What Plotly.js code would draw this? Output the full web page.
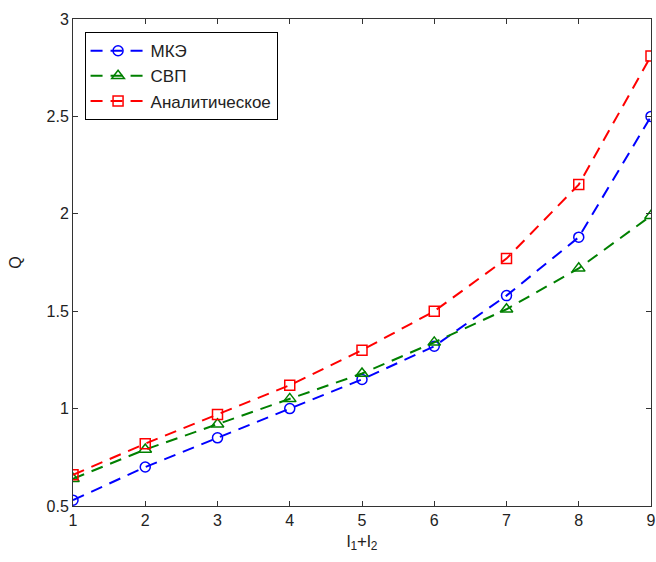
<!DOCTYPE html>
<html>
<head>
<meta charset="utf-8">
<script src="https://cdn.plot.ly/plotly-3.0.1.min.js"></script>
<style>html,body{margin:0;padding:0;background:#fff;}#chart{width:656px;height:562px;}</style>
</head>
<body>
<div id="chart"></div>
<script>
const xVals = [1, 2, 3, 4, 5, 6, 7, 8, 9];
const mke = [0.53, 0.70, 0.85, 1.00, 1.15, 1.32, 1.58, 1.88, 2.50];
const svp = [0.64, 0.79, 0.92, 1.05, 1.18, 1.34, 1.51, 1.72, 1.99];
const analit = [0.66, 0.82, 0.97, 1.12, 1.30, 1.50, 1.77, 2.15, 2.81];
const names = ['МКЭ', 'СВП', 'Аналитическое'];
const yTicks = [0.5, 1, 1.5, 2, 2.5, 3];
const yTickText = ['0.5', '1', '1.5', '2', '2.5', '3'];

const font = {family: 'Liberation Sans, Arial, sans-serif', size: 16, color: '#222'};
const traces = [
  {x: xVals, y: mke, name: names[0], mode: 'lines+markers',
   line: {color: '#0000ff', width: 2, dash: '12px,8px'},
   marker: {symbol: 'circle-open', size: 10, color: '#0000ff', line: {width: 1.5}}},
  {x: xVals, y: svp, name: names[1], mode: 'lines+markers',
   line: {color: '#008000', width: 2, dash: '12px,8px'},
   marker: {symbol: 'triangle-up-open', size: 11, color: '#008000', line: {width: 1.5}}},
  {x: xVals, y: analit, name: names[2], mode: 'lines+markers',
   line: {color: '#ff0000', width: 2, dash: '12px,8px'},
   marker: {symbol: 'square-open', size: 10, color: '#ff0000', line: {width: 1.5}}}
];
const layout = {
  width: 656, height: 562,
  margin: {l: 73, r: 5, t: 19, b: 56},
  paper_bgcolor: '#fff', plot_bgcolor: '#fff',
  font: font,
  showlegend: true,
  legend: {x: 0.02, y: 0.973, xanchor: 'left', yanchor: 'top', bordercolor: '#000', borderwidth: 1,
           bgcolor: '#fff', itemwidth: 55, font: {family: font.family, size: 17, color: '#222'}},
  xaxis: {range: [1, 9], tickvals: xVals, ticks: 'inside', ticklen: 5, tickcolor: '#333',
          showline: true, linecolor: '#333', linewidth: 1, mirror: 'ticks', showgrid: false, zeroline: false,
          title: {text: 'l<sub>1</sub>+l<sub>2</sub>', standoff: 6, font: {size: 17}}},
  yaxis: {range: [0.5, 3], tickvals: yTicks, ticktext: yTickText,
          ticks: 'inside', ticklen: 5, tickcolor: '#333',
          showline: true, linecolor: '#333', linewidth: 1, mirror: 'ticks', showgrid: false, zeroline: false,
          title: {text: 'Q', standoff: 20, font: {size: 16}}}
};
Plotly.newPlot('chart', traces, layout, {displayModeBar: false, staticPlot: true});
</script>
</body>
</html>
